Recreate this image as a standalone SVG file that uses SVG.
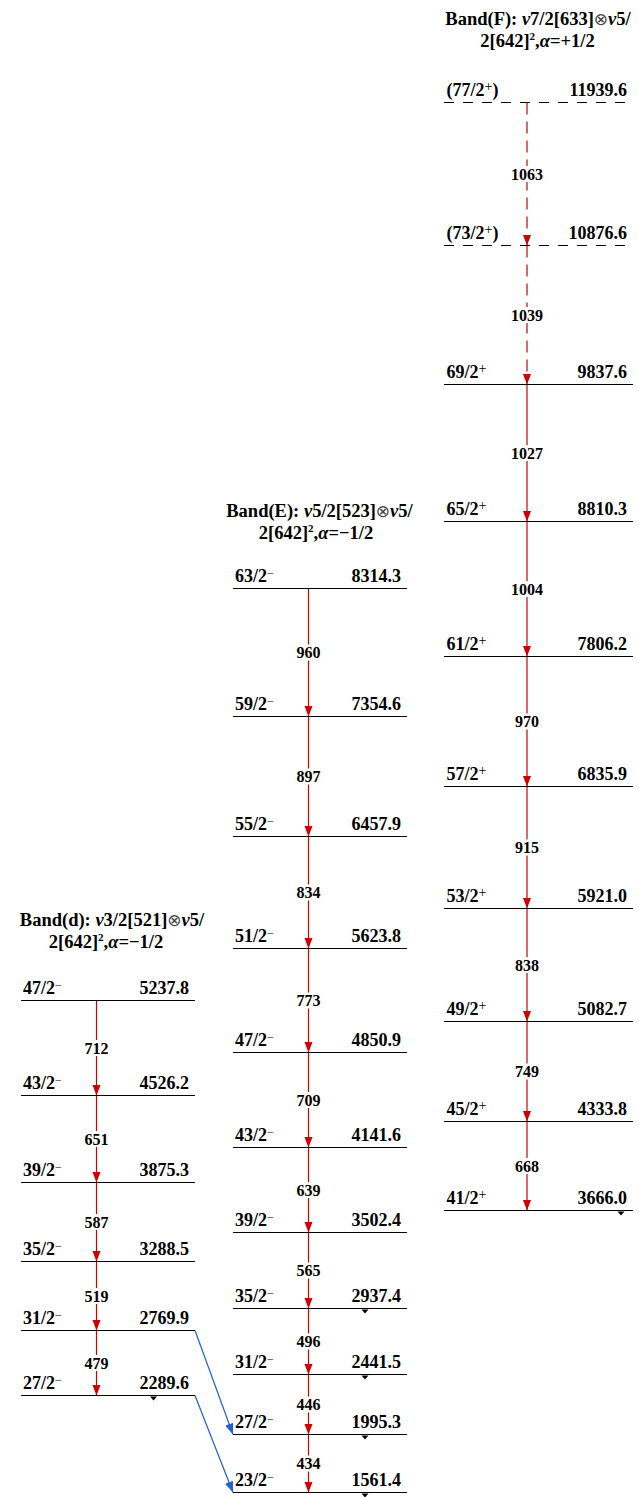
<svg xmlns="http://www.w3.org/2000/svg" width="639" height="1497" viewBox="0 0 639 1497">
<style>
.t{font-family:"Liberation Serif","Times New Roman","DejaVu Serif",serif;font-weight:bold;fill:#000}
.lv{font-size:18px}
.ti{font-size:18.5px}
.tr{font-size:16px;text-anchor:middle}
.e{text-anchor:end}
.sp{font-size:12px;font-weight:normal}
.pl{font-size:14px;font-weight:normal}
.sq{font-size:11px}
.it{font-style:italic}
.ot{font-family:"DejaVu Sans",sans-serif;font-weight:normal;font-size:17px;fill:#444}
.lvl{stroke:#000;stroke-width:1.2;fill:none}
.dl{stroke-dasharray:10 9}
.g{stroke:#d10000;stroke-width:1.2;fill:none}
.gd{stroke-dasharray:12 7}
.b{stroke:#1f5fd8;stroke-width:1.2;fill:none}
.bg{fill:#fff}
.tri{fill:#000}
</style>
<defs>
<marker id="ar" viewBox="0 0 11 8.4" refX="11" refY="4.2" markerWidth="11" markerHeight="8.4" markerUnits="userSpaceOnUse" orient="auto"><path d="M0,0L11,4.2L0,8.4z" fill="#d10000"/></marker>
<marker id="ab" viewBox="0 0 11 8.4" refX="11" refY="4.2" markerWidth="11" markerHeight="8.4" markerUnits="userSpaceOnUse" orient="auto"><path d="M0,0L11,4.2L0,8.4z" fill="#1f5fd8"/></marker>
</defs>

<!-- Titles -->
<g id="titleF" class="t ti">
<text x="538" y="24.5" text-anchor="middle">Band(F): <tspan class="it">ν</tspan>7/2[633]<tspan class="ot">⊗</tspan><tspan class="it">ν</tspan>5/</text>
<text x="537.5" y="46.5" text-anchor="middle">2[642]<tspan class="sq" dy="-7">2</tspan><tspan dy="7">,</tspan><tspan class="it">α</tspan>=+1/2</text>
</g>
<g id="titleE" class="t ti">
<text x="319.5" y="516.5" text-anchor="middle">Band(E): <tspan class="it">ν</tspan>5/2[523]<tspan class="ot">⊗</tspan><tspan class="it">ν</tspan>5/</text>
<text x="316" y="539" text-anchor="middle">2[642]<tspan class="sq" dy="-7">2</tspan><tspan dy="7">,</tspan><tspan class="it">α</tspan>=−1/2</text>
</g>
<g id="titled" class="t ti">
<text x="112" y="925.5" text-anchor="middle">Band(d): <tspan class="it">ν</tspan>3/2[521]<tspan class="ot">⊗</tspan><tspan class="it">ν</tspan>5/</text>
<text x="106" y="947.5" text-anchor="middle">2[642]<tspan class="sq" dy="-7">2</tspan><tspan dy="7">,</tspan><tspan class="it">α</tspan>=−1/2</text>
</g>

<!-- Connectors -->
<g id="connectors">
<line class="g" x1="96.5" y1="1000.5" x2="96.5" y2="1095.5" marker-end="url(#ar)"/>
<line class="g" x1="96.5" y1="1095.5" x2="96.5" y2="1182.5" marker-end="url(#ar)"/>
<line class="g" x1="96.5" y1="1182.5" x2="96.5" y2="1261.5" marker-end="url(#ar)"/>
<line class="g" x1="96.5" y1="1261.5" x2="96.5" y2="1330.5" marker-end="url(#ar)"/>
<line class="g" x1="96.5" y1="1330.5" x2="96.5" y2="1395.5" marker-end="url(#ar)"/>
<line class="g" x1="308.5" y1="588.5" x2="308.5" y2="716.5" marker-end="url(#ar)"/>
<line class="g" x1="308.5" y1="716.5" x2="308.5" y2="836.5" marker-end="url(#ar)"/>
<line class="g" x1="308.5" y1="836.5" x2="308.5" y2="948.5" marker-end="url(#ar)"/>
<line class="g" x1="308.5" y1="948.5" x2="308.5" y2="1052.5" marker-end="url(#ar)"/>
<line class="g" x1="308.5" y1="1052.5" x2="308.5" y2="1147.5" marker-end="url(#ar)"/>
<line class="g" x1="308.5" y1="1147.5" x2="308.5" y2="1232.5" marker-end="url(#ar)"/>
<line class="g" x1="308.5" y1="1232.5" x2="308.5" y2="1308.5" marker-end="url(#ar)"/>
<line class="g" x1="308.5" y1="1308.5" x2="308.5" y2="1374.5" marker-end="url(#ar)"/>
<line class="g" x1="308.5" y1="1374.5" x2="308.5" y2="1434.5" marker-end="url(#ar)"/>
<line class="g" x1="308.5" y1="1434.5" x2="308.5" y2="1492.5" marker-end="url(#ar)"/>
<line class="g gd" x1="527" y1="102.5" x2="527" y2="245.5" marker-end="url(#ar)"/>
<line class="g gd" x1="527" y1="245.5" x2="527" y2="384.5" marker-end="url(#ar)"/>
<line class="g" x1="527" y1="384.5" x2="527" y2="521.5" marker-end="url(#ar)"/>
<line class="g" x1="527" y1="521.5" x2="527" y2="656.5" marker-end="url(#ar)"/>
<line class="g" x1="527" y1="656.5" x2="527" y2="786.5" marker-end="url(#ar)"/>
<line class="g" x1="527" y1="786.5" x2="527" y2="908.5" marker-end="url(#ar)"/>
<line class="g" x1="527" y1="908.5" x2="527" y2="1021.5" marker-end="url(#ar)"/>
<line class="g" x1="527" y1="1021.5" x2="527" y2="1121.5" marker-end="url(#ar)"/>
<line class="g" x1="527" y1="1121.5" x2="527" y2="1210.5" marker-end="url(#ar)"/>
<line class="b" x1="195" y1="1330.5" x2="233" y2="1434.5" marker-end="url(#ab)"/>
<line class="b" x1="195" y1="1395.5" x2="233" y2="1492.5" marker-end="url(#ab)"/>

<g class="t tr">
<rect class="bg" x="82" y="1040" width="29" height="16"/><text x="96.5" y="1053.5">712</text>
<rect class="bg" x="82" y="1131" width="29" height="16"/><text x="96.5" y="1144.5">651</text>
<rect class="bg" x="82" y="1214" width="29" height="16"/><text x="96.5" y="1227.5">587</text>
<rect class="bg" x="82" y="1288" width="29" height="16"/><text x="96.5" y="1301.5">519</text>
<rect class="bg" x="82" y="1355" width="29" height="16"/><text x="96.5" y="1368.5">479</text>

<rect class="bg" x="294" y="644.5" width="29" height="16"/><text x="308.5" y="658">960</text>
<rect class="bg" x="294" y="768.5" width="29" height="16"/><text x="308.5" y="782">897</text>
<rect class="bg" x="294" y="884.5" width="29" height="16"/><text x="308.5" y="898">834</text>
<rect class="bg" x="294" y="992.5" width="29" height="16"/><text x="308.5" y="1006">773</text>
<rect class="bg" x="294" y="1092" width="29" height="16"/><text x="308.5" y="1105.5">709</text>
<rect class="bg" x="294" y="1182" width="29" height="16"/><text x="308.5" y="1195.5">639</text>
<rect class="bg" x="294" y="1262.5" width="29" height="16"/><text x="308.5" y="1276">565</text>
<rect class="bg" x="294" y="1333.5" width="29" height="16"/><text x="308.5" y="1347">496</text>
<rect class="bg" x="294" y="1396.5" width="29" height="16"/><text x="308.5" y="1410">446</text>
<rect class="bg" x="294" y="1455.5" width="29" height="16"/><text x="308.5" y="1469">434</text>

<rect class="bg" x="508.5" y="166" width="37" height="16"/><text x="527" y="179.5">1063</text>
<rect class="bg" x="508.5" y="307" width="37" height="16"/><text x="527" y="320.5">1039</text>
<rect class="bg" x="508.5" y="445" width="37" height="16"/><text x="527" y="458.5">1027</text>
<rect class="bg" x="508.5" y="581" width="37" height="16"/><text x="527" y="594.5">1004</text>
<rect class="bg" x="512.5" y="713.5" width="29" height="16"/><text x="527" y="727">970</text>
<rect class="bg" x="512.5" y="839.5" width="29" height="16"/><text x="527" y="853">915</text>
<rect class="bg" x="512.5" y="957" width="29" height="16"/><text x="527" y="970.5">838</text>
<rect class="bg" x="512.5" y="1063.5" width="29" height="16"/><text x="527" y="1077">749</text>
<rect class="bg" x="512.5" y="1158" width="29" height="16"/><text x="527" y="1171.5">668</text>
</g>
</g>

<!-- Band d levels -->
<g id="d47" class="t lv"><line class="lvl" x1="21" y1="1000.5" x2="195" y2="1000.5"/><text x="23" y="994">47/2<tspan class="sp" dy="-5.5">−</tspan></text><text class="e" x="189" y="994">5237.8</text></g>
<g id="d43" class="t lv"><line class="lvl" x1="21" y1="1095.5" x2="195" y2="1095.5"/><text x="23" y="1089">43/2<tspan class="sp" dy="-5.5">−</tspan></text><text class="e" x="189" y="1089">4526.2</text></g>
<g id="d39" class="t lv"><line class="lvl" x1="21" y1="1182.5" x2="195" y2="1182.5"/><text x="23" y="1176">39/2<tspan class="sp" dy="-5.5">−</tspan></text><text class="e" x="189" y="1176">3875.3</text></g>
<g id="d35" class="t lv"><line class="lvl" x1="21" y1="1261.5" x2="195" y2="1261.5"/><text x="23" y="1255">35/2<tspan class="sp" dy="-5.5">−</tspan></text><text class="e" x="189" y="1255">3288.5</text></g>
<g id="d31" class="t lv"><line class="lvl" x1="21" y1="1330.5" x2="195" y2="1330.5"/><text x="23" y="1324">31/2<tspan class="sp" dy="-5.5">−</tspan></text><text class="e" x="189" y="1324">2769.9</text></g>
<g id="d27" class="t lv"><line class="lvl" x1="21" y1="1395.5" x2="195" y2="1395.5"/><text x="23" y="1389">27/2<tspan class="sp" dy="-5.5">−</tspan></text><text class="e" x="189" y="1389">2289.6</text><polygon class="tri" points="150,1396.5 157,1396.5 153.5,1400.5"/></g>

<!-- Band E levels -->
<g id="E63" class="t lv"><line class="lvl" x1="233" y1="588.5" x2="407" y2="588.5"/><text x="235" y="582">63/2<tspan class="sp" dy="-5.5">−</tspan></text><text class="e" x="401" y="582">8314.3</text></g>
<g id="E59" class="t lv"><line class="lvl" x1="233" y1="716.5" x2="407" y2="716.5"/><text x="235" y="710">59/2<tspan class="sp" dy="-5.5">−</tspan></text><text class="e" x="401" y="710">7354.6</text></g>
<g id="E55" class="t lv"><line class="lvl" x1="233" y1="836.5" x2="407" y2="836.5"/><text x="235" y="830">55/2<tspan class="sp" dy="-5.5">−</tspan></text><text class="e" x="401" y="830">6457.9</text></g>
<g id="E51" class="t lv"><line class="lvl" x1="233" y1="948.5" x2="407" y2="948.5"/><text x="235" y="942">51/2<tspan class="sp" dy="-5.5">−</tspan></text><text class="e" x="401" y="942">5623.8</text></g>
<g id="E47" class="t lv"><line class="lvl" x1="233" y1="1052.5" x2="407" y2="1052.5"/><text x="235" y="1046">47/2<tspan class="sp" dy="-5.5">−</tspan></text><text class="e" x="401" y="1046">4850.9</text></g>
<g id="E43" class="t lv"><line class="lvl" x1="233" y1="1147.5" x2="407" y2="1147.5"/><text x="235" y="1141">43/2<tspan class="sp" dy="-5.5">−</tspan></text><text class="e" x="401" y="1141">4141.6</text></g>
<g id="E39" class="t lv"><line class="lvl" x1="233" y1="1232.5" x2="407" y2="1232.5"/><text x="235" y="1226">39/2<tspan class="sp" dy="-5.5">−</tspan></text><text class="e" x="401" y="1226">3502.4</text></g>
<g id="E35" class="t lv"><line class="lvl" x1="233" y1="1308.5" x2="407" y2="1308.5"/><text x="235" y="1302">35/2<tspan class="sp" dy="-5.5">−</tspan></text><text class="e" x="401" y="1302">2937.4</text><polygon class="tri" points="361.5,1309.5 368.5,1309.5 365,1313.5"/></g>
<g id="E31" class="t lv"><line class="lvl" x1="233" y1="1374.5" x2="407" y2="1374.5"/><text x="235" y="1368">31/2<tspan class="sp" dy="-5.5">−</tspan></text><text class="e" x="401" y="1368">2441.5</text><polygon class="tri" points="361.5,1375.5 368.5,1375.5 365,1379.5"/></g>
<g id="E27" class="t lv"><line class="lvl" x1="233" y1="1434.5" x2="407" y2="1434.5"/><text x="235" y="1428">27/2<tspan class="sp" dy="-5.5">−</tspan></text><text class="e" x="401" y="1428">1995.3</text><polygon class="tri" points="361.5,1435.5 368.5,1435.5 365,1439.5"/></g>
<g id="E23" class="t lv"><line class="lvl" x1="233" y1="1492.5" x2="407" y2="1492.5"/><text x="235" y="1486">23/2<tspan class="sp" dy="-5.5">−</tspan></text><text class="e" x="401" y="1486">1561.4</text><polygon class="tri" points="361.5,1493.5 368.5,1493.5 365,1497.5"/></g>

<!-- Band F levels -->
<g id="F77" class="t lv"><line class="lvl dl" x1="444" y1="102.5" x2="633" y2="102.5"/><text x="446.5" y="96">(77/2<tspan class="pl" dy="-5">+</tspan><tspan dy="5">)</tspan></text><text class="e" x="627" y="96">11939.6</text></g>
<g id="F73" class="t lv"><line class="lvl dl" x1="444" y1="245.5" x2="633" y2="245.5"/><text x="446.5" y="239">(73/2<tspan class="pl" dy="-5">+</tspan><tspan dy="5">)</tspan></text><text class="e" x="627" y="239">10876.6</text></g>
<g id="F69" class="t lv"><line class="lvl" x1="444" y1="384.5" x2="633" y2="384.5"/><text x="446.5" y="378">69/2<tspan class="pl" dy="-5">+</tspan></text><text class="e" x="627" y="378">9837.6</text></g>
<g id="F65" class="t lv"><line class="lvl" x1="444" y1="521.5" x2="633" y2="521.5"/><text x="446.5" y="515">65/2<tspan class="pl" dy="-5">+</tspan></text><text class="e" x="627" y="515">8810.3</text></g>
<g id="F61" class="t lv"><line class="lvl" x1="444" y1="656.5" x2="633" y2="656.5"/><text x="446.5" y="650">61/2<tspan class="pl" dy="-5">+</tspan></text><text class="e" x="627" y="650">7806.2</text></g>
<g id="F57" class="t lv"><line class="lvl" x1="444" y1="786.5" x2="633" y2="786.5"/><text x="446.5" y="780">57/2<tspan class="pl" dy="-5">+</tspan></text><text class="e" x="627" y="780">6835.9</text></g>
<g id="F53" class="t lv"><line class="lvl" x1="444" y1="908.5" x2="633" y2="908.5"/><text x="446.5" y="902">53/2<tspan class="pl" dy="-5">+</tspan></text><text class="e" x="627" y="902">5921.0</text></g>
<g id="F49" class="t lv"><line class="lvl" x1="444" y1="1021.5" x2="633" y2="1021.5"/><text x="446.5" y="1015">49/2<tspan class="pl" dy="-5">+</tspan></text><text class="e" x="627" y="1015">5082.7</text></g>
<g id="F45" class="t lv"><line class="lvl" x1="444" y1="1121.5" x2="633" y2="1121.5"/><text x="446.5" y="1115">45/2<tspan class="pl" dy="-5">+</tspan></text><text class="e" x="627" y="1115">4333.8</text></g>
<g id="F41" class="t lv"><line class="lvl" x1="444" y1="1210.5" x2="633" y2="1210.5"/><text x="446.5" y="1204">41/2<tspan class="pl" dy="-5">+</tspan></text><text class="e" x="627" y="1204">3666.0</text><polygon class="tri" points="617.5,1211.5 624.5,1211.5 621,1215.5"/></g>
</svg>
